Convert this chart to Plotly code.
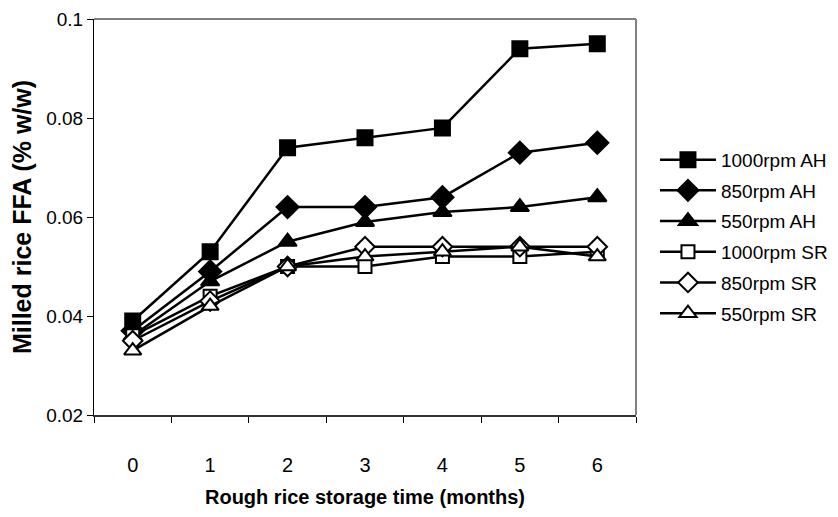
import plotly.graph_objects as go

months = ['0', '1', '2', '3', '4', '5', '6']

ah_1000 = [0.039, 0.053, 0.074, 0.076, 0.078, 0.094, 0.095]
ah_850 = [0.037, 0.049, 0.062, 0.062, 0.064, 0.073, 0.075]
ah_550 = [0.036, 0.047, 0.055, 0.059, 0.061, 0.062, 0.064]
sr_1000 = [0.036, 0.044, 0.050, 0.050, 0.052, 0.052, 0.053]
sr_850 = [0.035, 0.043, 0.050, 0.054, 0.054, 0.054, 0.054]
sr_550 = [0.033, 0.042, 0.050, 0.052, 0.053, 0.054, 0.052]

series = [
    ('1000rpm AH', ah_1000, 'square', 'black', 15),
    ('850rpm AH', ah_850, 'diamond', 'black', 17),
    ('550rpm AH', ah_550, 'triangle-up', 'black', 16),
    ('1000rpm SR', sr_1000, 'square', 'white', 13),
    ('850rpm SR', sr_850, 'diamond', 'white', 15),
    ('550rpm SR', sr_550, 'triangle-up', 'white', 15),
]

FONT = 'Liberation Sans, Arial'

fig = go.Figure()
for i, (name, vals, sym, fill, size) in enumerate(series):
    fig.add_trace(go.Scatter(
        x=months, y=vals, name=name, mode='lines+markers',
        legendgroup=f'g{i}',
        line=dict(color='black', width=2.5),
        marker=dict(symbol=sym, color=fill, size=size,
                    line=dict(color='black', width=2)),
    ))

# page body adds an 8px offset, so the figure is 8px smaller
fig.update_layout(
    width=830, height=509,
    margin=dict(l=86, r=202, t=11, b=102, autoexpand=False),
    paper_bgcolor='white', plot_bgcolor='white',
    font=dict(family=FONT, size=20, color='black'),
    showlegend=True,
    legend=dict(x=1.035, xanchor='left', y=0.45, yanchor='middle',
                font=dict(size=19), tracegroupgap=3, itemwidth=56,
                bgcolor='rgba(0,0,0,0)'),
    shapes=[
        dict(type='line', xref='paper', yref='paper', x0=0, x1=1, y0=1, y1=1,
             line=dict(color='#808080', width=2), layer='above'),
        dict(type='line', xref='paper', yref='paper', x0=1, x1=1, y0=0, y1=1,
             line=dict(color='#808080', width=2), layer='above'),
    ],
)

fig.update_xaxes(
    type='category', range=[-0.5, 6.5], tickson='boundaries', ticks='outside',
    ticklen=6, tickcolor='black', showline=True, linecolor='#333333', linewidth=2,
    showgrid=False, ticklabelstandoff=31, automargin=False,
    title=dict(text='<b>Rough rice storage time (months)</b>', standoff=15,
               font=dict(size=20)),
)
fig.update_yaxes(
    range=[0.02, 0.1], dtick=0.02, ticks='outside', ticklen=6,
    tickcolor='black', showline=True, linecolor='black', linewidth=1,
    showgrid=False, zeroline=False, tickformat='.2~f', automargin=False,
    ticklabeloverflow='allow', tickfont=dict(size=19),
    title=dict(text='<b>Milled rice FFA (% w/w)</b>', standoff=8,
               font=dict(size=25)),
)

fig.write_html('out.html')
